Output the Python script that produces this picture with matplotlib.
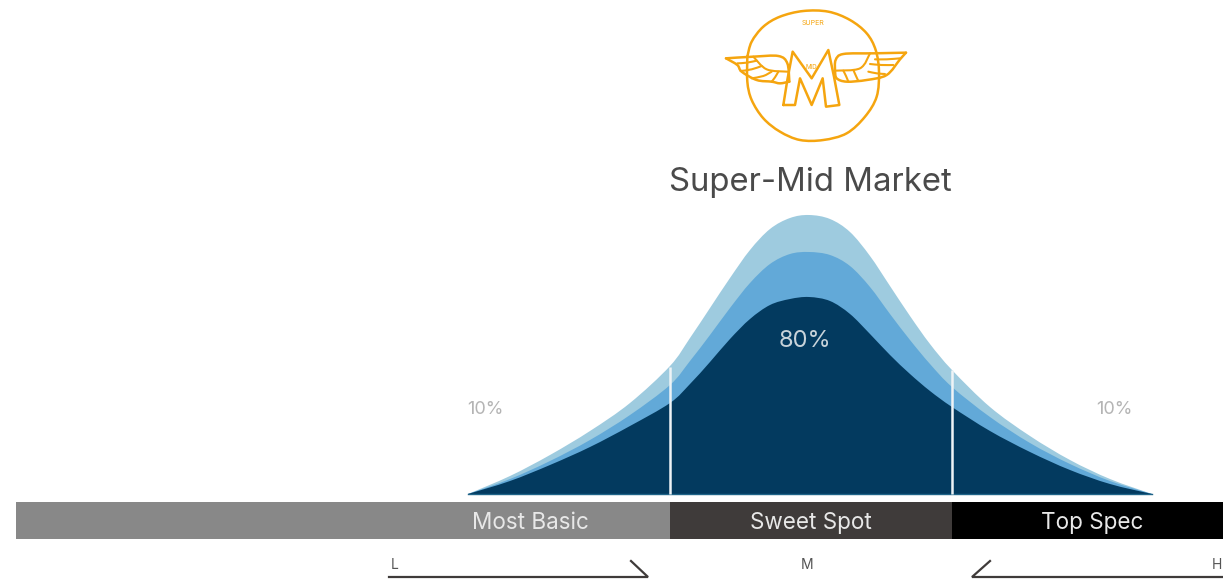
import numpy as np
import matplotlib
matplotlib.use("Agg")
import matplotlib.pyplot as plt
from matplotlib.path import Path
from matplotlib.patches import PathPatch

# curve values, heights above the baseline
curve_x = [468, 510, 550, 590, 630, 670, 690, 710, 730, 750, 770, 790, 809, 830, 850, 870, 890, 910, 930, 952, 990, 1030, 1070, 1110, 1152]
outer = [0, 18, 39, 63, 91, 128, 156, 186, 216, 244, 265, 276, 279, 275, 262, 238, 208, 178, 150, 124, 87, 58, 34, 15, 0]
middle = [0, 15, 33, 54, 79, 109, 133, 159, 186, 211, 230, 240, 242, 239, 228, 207, 180, 154, 130, 107, 77, 51, 30, 13, 0]
dark = [0, 13, 29, 47, 68, 91, 110, 132, 155, 175, 189, 195, 197, 193, 180, 160, 139, 120, 103, 87, 63, 42, 24, 10, 0]

segment_names = ["Most Basic", "Sweet Spot", "Top Spec"]
segment_start = [16, 670, 952]
segment_end = [670, 952, 1223]
segment_colors = ["#888888", "#3f3b3a", "#000000"]

# logo outlines in zoomed picture units
logo_circle = [(142, 170), (155, 125), (190, 80), (240, 50), (310, 33), (385, 35), (450, 60), (500, 100), (527, 150), (537, 215),
               (530, 290), (495, 350), (440, 400), (370, 420), (300, 420), (240, 395), (190, 355), (155, 300), (142, 245), (142, 170)]
logo_m = [(250, 315), (262, 240), (278, 155), (335, 235), (385, 150), (402, 230), (418, 315), (378, 320), (368, 235),
          (335, 315), (300, 235), (285, 315), (250, 315)]
wing_left_top = [(78, 175), (160, 170), (235, 168), (262, 190), (268, 245)]
wing_left_low = [(78, 175), (112, 195), (125, 215), (170, 240), (215, 245), (240, 250), (268, 245)]
wing_right_top = [(618, 158), (520, 160), (430, 162), (407, 180), (405, 212)]
wing_right_low = [(618, 158), (600, 178), (560, 225), (500, 240), (440, 245), (410, 235), (405, 212)]
feathers = [
    [(112, 190), (140, 188), (170, 182)], [(122, 213), (155, 208), (185, 198)], [(155, 235), (190, 228), (215, 215)],
    [(215, 245), (225, 232), (235, 215)], [(160, 170), (200, 208), (262, 215)],
    [(510, 160), (480, 205), (405, 212)], [(525, 178), (560, 178), (600, 175)], [(510, 192), (545, 195), (580, 195)],
    [(505, 215), (530, 220), (555, 222)], [(475, 243), (468, 228), (460, 210)], [(445, 245), (438, 228), (430, 212)],
]

fig = plt.figure(figsize=(12.23, 5.83), dpi=100)
ax = fig.add_axes([0, 0, 1, 1])
ax.set_xlim(0, 1223)
ax.set_ylim(-89, 494)
ax.axis("off")
plt.rcParams["font.family"] = ["Inter", "DejaVu Sans"]


def spline_path(pts, close=False):
    # Catmull-Rom through the points, as bezier segments
    pts = np.array(pts, dtype=float)
    verts = [pts[0]]
    codes = [Path.MOVETO]
    for i in range(len(pts) - 1):
        p0 = pts[max(i - 1, 0)]
        p1 = pts[i]
        p2 = pts[i + 1]
        p3 = pts[min(i + 2, len(pts) - 1)]
        verts += [p1 + (p2 - p0) / 6, p2 - (p3 - p1) / 6, p2]
        codes += [Path.CURVE4] * 3
    if close:
        verts.append(pts[0])
        codes.append(Path.CLOSEPOLY)
    return Path(verts, codes)


def smooth_area(xs, ys, color):
    path = spline_path(np.column_stack([xs, ys]), close=True)
    ax.add_patch(PathPatch(path, facecolor=color, edgecolor="none", zorder=2))


smooth_area(curve_x, outer, "#9ecbdf")
smooth_area(curve_x, middle, "#62a9d8")
smooth_area(curve_x, dark, "#033a5f")

ax.plot([468, 1152], [0, 0], color="#1f6488", lw=1, zorder=3)
ax.vlines(segment_start[1], 0, 127, color="#eef3f6", lw=1.8, zorder=4)
ax.vlines(segment_start[2], 0, 124, color="#eef3f6", lw=1.8, zorder=4)

for a, b, c in zip(segment_start, segment_end, segment_colors):
    ax.barh(-26.5, b - a, left=a, height=37, color=c, zorder=2)
label_x = [530, 811, 1092]
for name, lx in zip(segment_names, label_x):
    ax.text(lx, -29, name, color="#e8e8e8", fontsize=16.2, ha="center", va="center", zorder=5)

ax.text(810, 312, "Super-Mid Market", color="#4a4a4a", fontsize=23.7, ha="center", va="center")
ax.text(805, 153, "80%", color="#c8d3da", fontsize=17, ha="center", va="center", zorder=5)
ax.text(485, 84, "10%", color="#b4b4b4", fontsize=13, ha="center", va="center")
ax.text(1114, 84, "10%", color="#b4b4b4", fontsize=13, ha="center", va="center")

ax.text(395, -71, "L", color="#555555", fontsize=10, ha="center", va="center")
ax.text(807, -71, "M", color="#555555", fontsize=10, ha="center", va="center")
ax.text(1217, -71, "H", color="#555555", fontsize=10, ha="center", va="center")
ax.plot([389, 648, 631], [-83, -83, -67], color="#3f3b3a", lw=1.6, solid_joinstyle="miter")
ax.plot([1223, 972, 990], [-83, -83, -67], color="#3f3b3a", lw=1.6, solid_joinstyle="miter")


def logo_pts(points):
    return [(700 + p[0] / 3, 494 - p[1] / 3) for p in points]


def logo_stroke(points, lw=1.8, smooth=True):
    pts = logo_pts(points)
    path = spline_path(pts) if smooth else Path(pts)
    ax.add_patch(PathPatch(path, facecolor="none", edgecolor="#f5a50f", lw=lw, zorder=7, capstyle="round", joinstyle="round"))


def logo_fill(points):
    pts = logo_pts(points)
    ax.fill([p[0] for p in pts], [p[1] for p in pts], color="white", zorder=6)


logo_stroke(logo_circle)
logo_fill(wing_left_top + wing_left_low[::-1])
logo_fill(wing_right_top + wing_right_low[::-1])
for part in [wing_left_top, wing_left_low, wing_right_top, wing_right_low]:
    logo_stroke(part)
for f in feathers:
    logo_stroke(f, lw=1.5)
logo_fill(logo_m)
ax.text(700 + 340 / 3, 494 - 68 / 3, "SUPER", color="#f5a50f", fontsize=5, ha="center", va="center", zorder=8)
logo_stroke(logo_m, smooth=False)
ax.text(700 + 333 / 3, 494 - 200 / 3, "MID", color="#f5a50f", fontsize=4.5, ha="center", va="center", zorder=8)

fig.savefig("out.png", dpi=100)
